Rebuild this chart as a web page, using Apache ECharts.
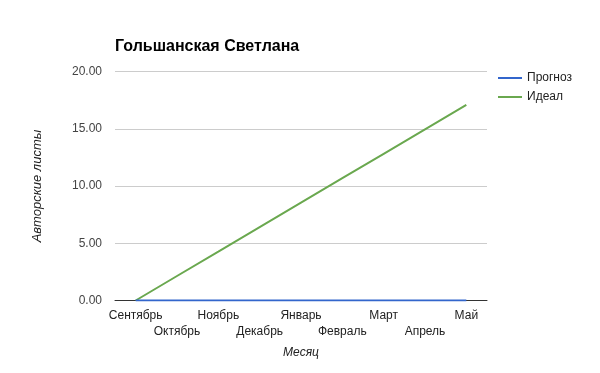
<!DOCTYPE html>
<html><head><meta charset="utf-8">
<script src="https://cdn.jsdelivr.net/npm/echarts@6/dist/echarts.min.js"></script>
<style>html,body{margin:0;padding:0;background:#fff}#c{width:600px;height:373px}</style>
</head><body><div id="c"></div>
<script>
const categories = ['Сентябрь','Октябрь','Ноябрь','Декабрь','Январь','Февраль','Март','Апрель','Май'];
const forecast = [0,0,0,0,0,0,0,0,0];
const ideal = [0,2.14,4.27,6.41,8.54,10.68,12.81,14.95,17.08];
const yTicks = [0,5,10,15,20];

const chart = echarts.init(document.getElementById('c'));
chart.setOption({
  animation:false,
  textStyle:{fontFamily:'Liberation Sans, Arial, sans-serif'},
  title:{text:'Гольшанская Светлана',left:110,top:34,textStyle:{fontSize:16,fontWeight:'bold',color:'#000',fontFamily:'Liberation Sans, Arial, sans-serif'}},
  legend:{orient:'vertical',left:493,top:67,itemWidth:24,itemHeight:2,itemGap:7,icon:'rect',
    textStyle:{fontSize:12,color:'#222'},data:['Прогноз','Идеал']},
  grid:{left:115,right:113,top:71.5,bottom:72.5,containLabel:false},
  xAxis:{type:'category',data:categories,boundaryGap:true,
    name:'Месяц',nameLocation:'middle',nameGap:46,
    nameTextStyle:{fontStyle:'italic',fontSize:12,color:'#222'},
    axisLine:{lineStyle:{color:'#333',width:1}},axisTick:{show:false},
    axisLabel:{interval:0,fontSize:12,color:'#222',margin:7,lineHeight:16,
      formatter:(v,i)=> i%2 ? '\n'+v : v}},
  yAxis:{type:'value',min:0,max:20,interval:5,
    name:'Авторские листы',nameLocation:'middle',nameGap:71,nameRotate:90,
    nameTextStyle:{fontStyle:'italic',fontSize:13,color:'#222'},
    axisLine:{show:false},axisTick:{show:false},
    splitLine:{lineStyle:{color:'#ccc'}},
    axisLabel:{fontSize:12,color:'#444',margin:13,formatter:v=>yTicks.includes(v)?v.toFixed(2):''}},
  series:[
    {name:'Прогноз',type:'line',data:forecast,symbol:'none',lineStyle:{width:2,color:'#3366cc'},itemStyle:{color:'#3366cc'},z:3},
    {name:'Идеал',type:'line',data:ideal,symbol:'none',lineStyle:{width:2,color:'#6aa84f'},itemStyle:{color:'#6aa84f'},z:2}
  ]
});
</script></body></html>
